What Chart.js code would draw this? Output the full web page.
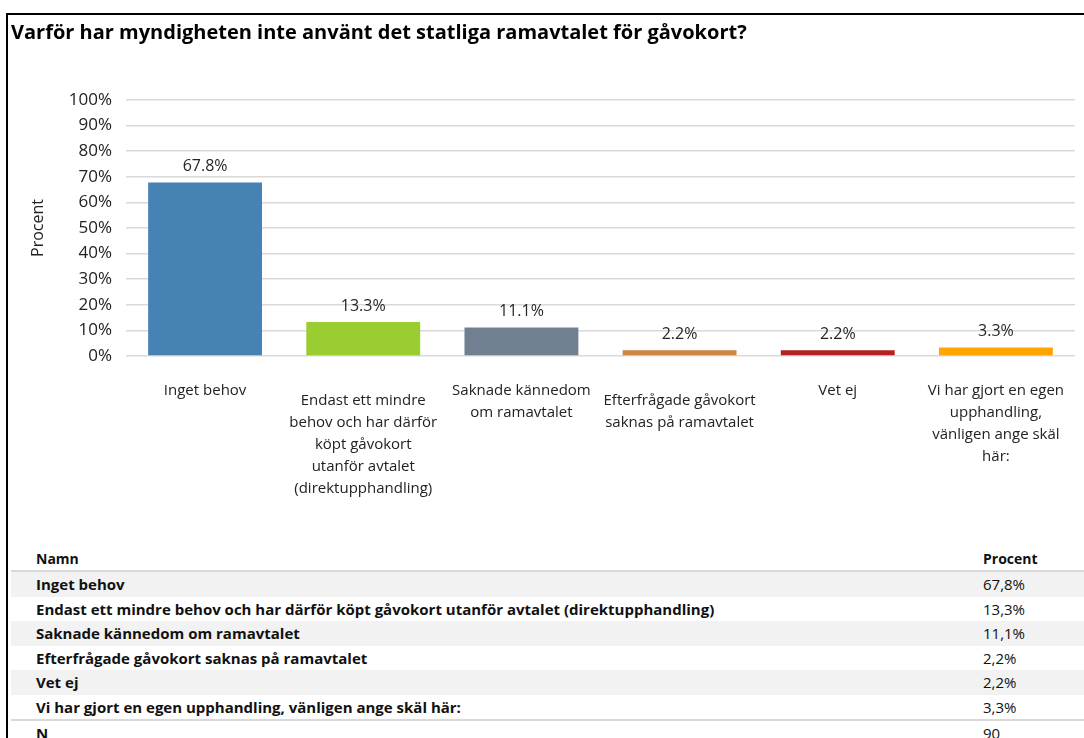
<!DOCTYPE html>
<html>
<head>
<meta charset="utf-8">
<script src="https://cdn.jsdelivr.net/npm/chart.js@4/dist/chart.umd.min.js"></script>
<style>
html,body{margin:0;padding:0;background:#fff;width:1084px;height:738px;overflow:hidden;}
#frame{position:absolute;left:6px;top:13px;width:1200px;height:800px;border-left:2px solid #000;border-top:2px solid #000;}
#wrap{position:absolute;left:8px;top:15px;width:1076px;height:525px;}
#tbl{position:absolute;left:11px;top:547px;width:1073px;font-family:"Open Sans", sans-serif;font-size:15px;color:#111;}
.row{position:relative;height:24.5px;line-height:24.5px;}
.row .n{position:absolute;left:25px;font-weight:bold;white-space:nowrap;}
.row .v{position:absolute;left:972px;white-space:nowrap;font-size:15px;}
.alt{background:#f2f2f2;}
.hdr{height:23px;line-height:23px;border-bottom:2px solid #d9d9d9;}
.hdr .n{font-size:14px;}
.hdr .v{font-weight:bold;font-size:14px;}
.sep{border-top:2px solid #d9d9d9;}
</style>
</head>
<body>
<div id="frame"></div>
<div id="wrap"><canvas id="c"></canvas></div>
<div id="tbl"></div>
<script>
const titleText = 'Varför har myndigheten inte använt det statliga ramavtalet för gåvokort?';
const categories = [
  'Inget behov',
  'Endast ett mindre behov och har därför köpt gåvokort utanför avtalet (direktupphandling)',
  'Saknade kännedom om ramavtalet',
  'Efterfrågade gåvokort saknas på ramavtalet',
  'Vet ej',
  'Vi har gjort en egen upphandling, vänligen ange skäl här:'
];
const categoryLines = [
  ['Inget behov'],
  ['Endast ett mindre', 'behov och har därför', 'köpt gåvokort', 'utanför avtalet', '(direktupphandling)'],
  ['Saknade kännedom', 'om ramavtalet'],
  ['Efterfrågade gåvokort', 'saknas på ramavtalet'],
  ['Vet ej'],
  ['Vi har gjort en egen', 'upphandling,', 'vänligen ange skäl', 'här:']
];
const labelStagger = [0, 1, 0, 1, 0, 0];
const values = [67.8, 13.3, 11.1, 2.2, 2.2, 3.3];
const barColors = ['#4682B4', '#9ACD32', '#708090', '#CD853F', '#B22222', '#FFA500'];
const yTickValues = [0, 10, 20, 30, 40, 50, 60, 70, 80, 90, 100];
const tableHeader = ['Namn', 'Procent'];
const totalN = 90;

const valueLabels = {
  id: 'valueLabels',
  afterDatasetsDraw(chart) {
    const ctx = chart.ctx;
    const meta = chart.getDatasetMeta(0);
    ctx.save();
    ctx.font = '16px "Open Sans"';
    ctx.fillStyle = '#262626';
    ctx.textAlign = 'center';
    ctx.textBaseline = 'middle';
    meta.data.forEach((bar, i) => {
      ctx.fillText(values[i].toFixed(1) + '%', bar.x, bar.y - 16);
    });
    ctx.restore();
  }
};

new Chart(document.getElementById('c'), {
  type: 'bar',
  data: {
    labels: categories,
    datasets: [{
      data: values,
      backgroundColor: barColors,
      borderWidth: 0,
      categoryPercentage: 1,
      barPercentage: 0.72
    }]
  },
  options: {
    responsive: true,
    maintainAspectRatio: false,
    animation: false,
    layout: { padding: { left: 3, right: 9, top: 0, bottom: 0 } },
    plugins: {
      legend: { display: false },
      tooltip: { enabled: false },
      title: {
        display: true,
        text: titleText,
        align: 'start',
        color: '#000',
        font: { family: '"Open Sans"', size: 20, weight: 'bold', lineHeight: 1.2 },
        padding: { top: 6, bottom: 55 }
      }
    },
    scales: {
      y: {
        min: 0,
        max: 100,
        afterBuildTicks: (scale) => { scale.ticks = yTickValues.map(v => ({ value: v })); },
        afterFit: (scale) => { scale.width = 115; },
        ticks: {
          padding: 14,
          color: '#222',
          font: { family: '"Open Sans"', size: 17 },
          callback: (v) => v + '%'
        },
        grid: { color: '#d9d9d9', lineWidth: 1.5, drawTicks: false },
        border: { display: false },
        title: {
          display: true,
          text: 'Procent',
          color: '#222',
          font: { family: '"Open Sans"', size: 16, lineHeight: 1.2 },
          padding: { top: 18, bottom: 0 }
        }
      },
      x: {
        type: 'category',
        offset: true,
        afterFit: (scale) => { scale.height = 184; },
        grid: { display: false },
        border: { display: false },
        ticks: {
          autoSkip: false,
          maxRotation: 0,
          minRotation: 0,
          padding: 16,
          color: '#222',
          font: { family: '"Open Sans"', size: 15, lineHeight: 1.467 },
          callback: (v, i) => labelStagger[i] === 0 ? categoryLines[i] : ''
        }
      },
      x2: {
        type: 'category',
        axis: 'x',
        offset: true,
        position: { y: 0 },
        grid: { display: false },
        border: { display: false },
        ticks: {
          autoSkip: false,
          maxRotation: 0,
          minRotation: 0,
          padding: 26,
          color: '#222',
          font: { family: '"Open Sans"', size: 15, lineHeight: 1.467 },
          callback: (v, i) => labelStagger[i] === 1 ? categoryLines[i] : ''
        }
      }
    }
  },
  plugins: [valueLabels]
});

// Data table below the chart
const tbl = document.getElementById('tbl');
function addRow(cls, name, val) {
  const r = document.createElement('div');
  r.className = 'row ' + cls;
  const n = document.createElement('span'); n.className = 'n'; n.textContent = name;
  const v = document.createElement('span'); v.className = 'v'; v.textContent = val;
  r.appendChild(n); r.appendChild(v);
  tbl.appendChild(r);
}
addRow('hdr', tableHeader[0], tableHeader[1]);
categories.forEach((c, i) => {
  addRow(i % 2 === 0 ? 'alt' : '', c, values[i].toFixed(1).replace('.', ',') + '%');
});
addRow('sep', 'N', String(totalN));
</script>
</body>
</html>
